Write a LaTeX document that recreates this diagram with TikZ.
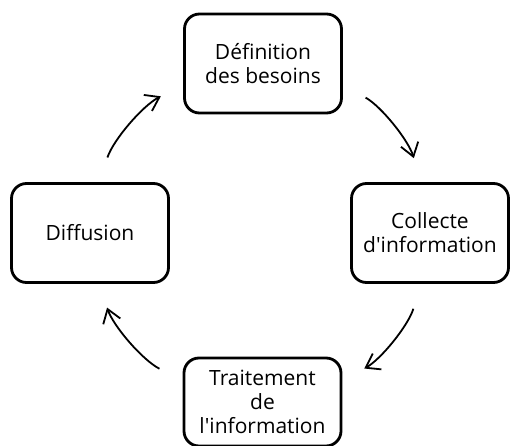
\documentclass[tikz,border=0pt]{standalone}
\usepackage{fontspec}
\setmainfont{Open Sans}
\usetikzlibrary{arrows.meta}

\begin{document}
\begin{tikzpicture}[x=1pt,y=1pt,
etape/.style={draw,line width=2.8pt,rounded corners=15pt,
  minimum width=157pt,minimum height=99pt,inner sep=0pt,align=center,
  text=black,font=\fontsize{21}{24}\selectfont},
fleche/.style={line width=1.8pt,
  -{Straight Barb[length=13pt,width=18pt,line width=1.8pt]},
  shorten <=26pt,shorten >=25pt}
]
\useasboundingbox (0,0) rectangle (510,445);
% les quatre etapes du cycle
\node[etape] (def) at (263,381.5) {Définition\\des besoins};
\node[etape] (coll) at (430,212) {Collecte\\d\textquotesingle information};
\node[etape,minimum height=88pt] (trait) at (262.5,43) {Traitement\\de\\l\textquotesingle information};
\node[etape] (diff) at (90,212) {Diffusion};
% fleches (arcs du cercle)
\draw[fleche] (def.-15) to[bend left=22,looseness=.9] (coll.100);
\draw[fleche] (coll.260) to[bend left=22,looseness=.9] (trait.15);
\draw[fleche] (trait.165) to[bend left=22,looseness=.9] (diff.280);
\draw[fleche] (diff.80) to[bend left=22,looseness=.9] (def.195);
\end{tikzpicture}
\end{document}
